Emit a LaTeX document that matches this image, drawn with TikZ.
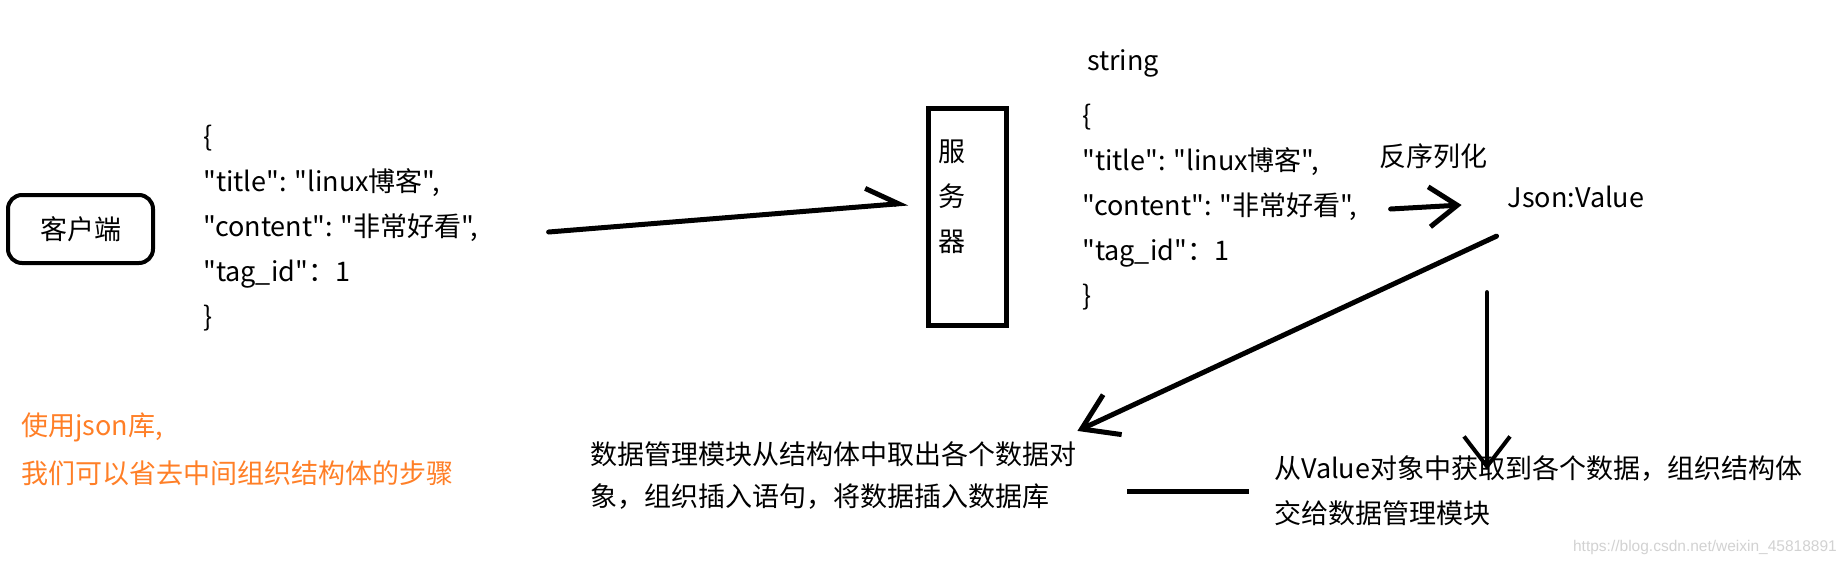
\documentclass[tikz,border=0pt]{standalone}
\usepackage{fontspec}
\setmainfont{Noto Sans CJK SC}[Ligatures=TeXOff]
\newfontfamily\wmfont{Liberation Sans}
\usetikzlibrary{positioning,arrows.meta}
\definecolor{tiporange}{HTML}{FF7F27}
\definecolor{wmgray}{HTML}{D2D2D2}

\begin{document}
\begin{tikzpicture}[x=1pt,y=-1pt,
  txt/.style={inner sep=0pt, align=left, font=\fontsize{27}{45}\selectfont},
  box/.style={draw, line width=5pt},
  link/.style={line width=5pt, line cap=round, -{Straight Barb[length=30pt,width=42pt]}}
]
\fill[white, use as bounding box] (0,0) rectangle (1844,566);

\node[box, txt, align=center, rounded corners=14pt, line width=4pt, minimum width=145pt, minimum height=68pt] (client) at (80.5,229) {客户端};
\node[txt, anchor=west] (cjson) at (203,228) {\{\\"title": "linux博客",\\"content": "非常好看",\\"tag\_id"：1\\\}};

\node[box, minimum width=78pt, minimum height=217pt] (server) at (967.5,217) {};
\node[txt, align=center] (srvtxt) at (952,197) {服\\务\\器};

\node[txt, anchor=west] (strlbl) at (1087,63) {string};
\node[txt, anchor=west] (sjson) at (1082,207) {\{\\"title": "linux博客",\\"content": "非常好看",\\"tag\_id"：1\\\}};

\node[txt] (deser) at (1433,156) {反序列化};
\node[txt] (jsonval) at (1576,197) {Json:Value};

\node[txt, anchor=west, font=\fontsize{27}{42}\selectfont] (dbtext) at (590,475) {数据管理模块从结构体中取出各个数据对\\象，组织插入语句，将数据插入数据库};
\node[txt, anchor=west] (valtext) at (1274,491) {从Value对象中获取到各个数据，组织结构体\\交给数据管理模块};

\node[txt, anchor=west, text=tiporange, font=\fontsize{27}{48}\selectfont] (tip) at (21,449) {使用json库,\\我们可以省去中间组织结构体的步骤};
\node[anchor=east, inner sep=0pt, text=wmgray, font=\wmfont\fontsize{15.5}{18}\selectfont] (wm) at (1837,547) {https://blog.csdn.net/weixin\_45818891};

\draw[link, -{Straight Barb[harpoon,length=32pt,width=36pt]}] ([xshift=70pt,yshift=-4pt]cjson.east) -- ([xshift=-18pt,yshift=14pt]server.west);
\draw[link, -{Straight Barb[length=28pt,width=40pt]}] ([xshift=33pt,yshift=-2pt]sjson.east) -- ([xshift=-46pt,yshift=-8pt]jsonval.west);
\draw[link, -{Straight Barb[length=34pt,width=44pt]}] ([xshift=-11pt,yshift=-28pt]jsonval.south west) -- ([xshift=1pt,yshift=10pt]dbtext.north east);
\draw[link, line width=4pt, -{Straight Barb[length=30pt,width=46pt]}] ([xshift=-89pt,yshift=-84pt]jsonval.south) -- ([xshift=-89pt,yshift=-14pt]jsonval.south |- valtext.north);
\draw[line width=5pt] ([xshift=51pt]dbtext.east |- valtext.west) -- ([xshift=-25pt]valtext.west);
\end{tikzpicture}
\end{document}
